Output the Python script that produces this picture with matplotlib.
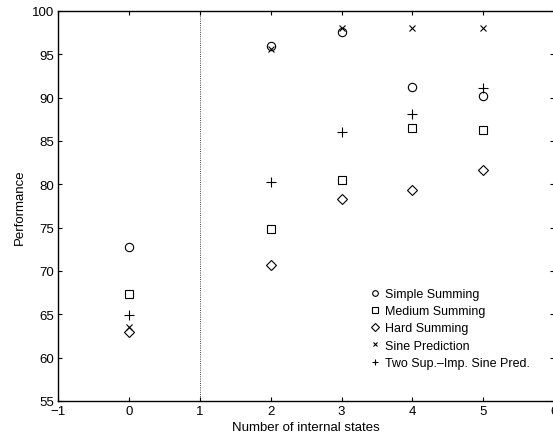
import matplotlib
matplotlib.use("Agg")
import matplotlib.pyplot as plt

plt.rcParams['font.family'] = ['Liberation Sans', 'DejaVu Sans']

x_states = [0, 2, 3, 4, 5]
simple_summing = [72.8, 96.0, 97.6, 91.2, 90.2]
medium_summing = [67.3, 74.9, 80.5, 86.5, 86.3]
hard_summing = [63.0, 70.7, 78.3, 79.4, 81.6]
sine_prediction = [63.5, 95.6, 98.0, 98.0, 98.0]
two_sine_pred = [64.9, 80.3, 86.0, 88.1, 91.1]

labels = ["Simple Summing", "Medium Summing", "Hard Summing",
          "Sine Prediction", "Two Sup.\u2013Imp. Sine Pred."]
xticks = [-1, 0, 1, 2, 3, 4, 5, 6]
yticks = [55, 60, 65, 70, 75, 80, 85, 90, 95, 100]

fig = plt.figure(figsize=(5.53, 4.39), dpi=100)
ax = fig.add_axes([0.105, 0.0843, 0.897, 0.8884])

common = dict(linestyle='none', color='k', markerfacecolor='none', markeredgewidth=0.8)
ax.plot(x_states, simple_summing, marker='o', markersize=6, label=labels[0], **common)
ax.plot(x_states, medium_summing, marker='s', markersize=5.5, label=labels[1], **common)
ax.plot(x_states, hard_summing, marker='D', markersize=5.5, label=labels[2], **common)
ax.plot(x_states, sine_prediction, marker='x', markersize=4.5, label=labels[3], **common)
ax.plot(x_states, two_sine_pred, marker='+', markersize=7, label=labels[4], **common)

ax.axvline(1, color='k', linestyle=':', linewidth=0.6)

ax.set_xlim(-1, 6)
ax.set_ylim(55, 100)
ax.set_xticks(xticks)
ax.set_xticklabels(['\u22121'] + [str(v) for v in xticks[1:]])
ax.set_yticks(yticks)
ax.tick_params(direction='in', top=True, right=True, length=3, width=0.8,
               labelsize=9.5, pad=3)
for s in ax.spines.values():
    s.set_linewidth(1.0)

ax.set_xlabel("Number of internal states", fontsize=9.5, labelpad=3)
ax.set_ylabel("Performance", fontsize=9.5, labelpad=4)

leg = ax.legend(loc='upper left', bbox_to_anchor=(0.632, 0.29), frameon=False,
                fontsize=9, handlelength=0.5, handletextpad=0.55, labelspacing=0.42,
                markerscale=0.68, borderpad=0, borderaxespad=0)

fig.savefig("out.png", dpi=100)
